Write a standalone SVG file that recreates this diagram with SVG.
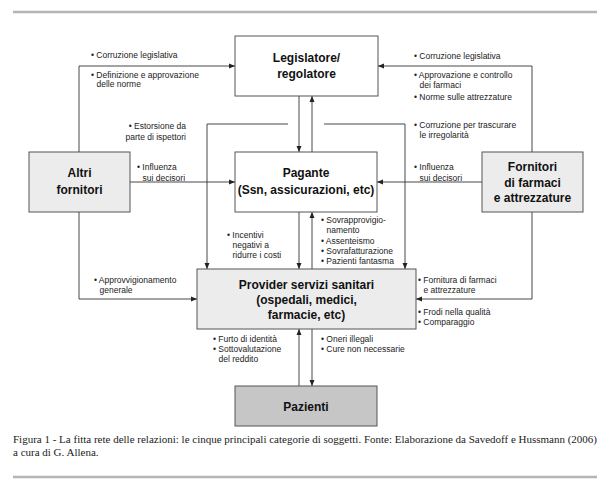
<svg xmlns="http://www.w3.org/2000/svg" width="609" height="488" viewBox="0 0 609 488">
<style>
.box{stroke:#555;stroke-width:1}
.w{fill:#fff}
.g{fill:#ececec}
.d{fill:#c6c6c6}
.t{font-family:"Liberation Sans",Arial,Helvetica,sans-serif;font-weight:bold;font-size:12px;fill:#111;text-anchor:middle}
.l{font-family:"Liberation Sans",Arial,Helvetica,sans-serif;font-size:8.5px;fill:#222}
.c{font-family:"Liberation Serif","Times New Roman",serif;font-size:11px;fill:#222}
.rule{stroke:#b5b5b5;stroke-width:2.5}
#connectors path{fill:none;stroke:#333;stroke-width:0.9;marker-end:url(#ah)}
</style>
<defs>
<marker id="ah" markerUnits="userSpaceOnUse" markerWidth="7" markerHeight="6" refX="6" refY="3" orient="auto">
<path d="M0,0.5 L6,3 L0,5.5 Z" fill="#222"/>
</marker>
</defs>
<rect width="609" height="488" fill="#fff"/>
<line class="rule" x1="13" y1="12" x2="597" y2="12"/>
<line class="rule" x1="13" y1="477" x2="597" y2="477"/>

<g id="connectors">
<path d="M79,152 V66 H235"/>
<path d="M532,152 V66 H378"/>
<path d="M299,96 V152"/>
<path d="M312,152 V96"/>
<path d="M288,124 H207 V269"/>
<path d="M324,124 H405 V269"/>
<path d="M130,182 H235"/>
<path d="M482,182 H377"/>
<path d="M299,212 V269"/>
<path d="M312,269 V212"/>
<path d="M79,212 V299 H197"/>
<path d="M532,212 V299 H416"/>
<path d="M299,386 V329"/>
<path d="M312,329 V386"/>
</g>

<g id="legislatore">
<rect class="box w" x="235" y="36" width="143" height="60"/>
<text class="t" x="306.5" y="62">Legislatore/</text>
<text class="t" x="306.5" y="78">regolatore</text>
</g>
<g id="pagante">
<rect class="box w" x="235" y="152" width="142" height="60"/>
<text class="t" x="306" y="177">Pagante</text>
<text class="t" x="306" y="194">(Ssn, assicurazioni, etc)</text>
</g>
<g id="altri">
<rect class="box g" x="29" y="152" width="101" height="60"/>
<text class="t" x="79.5" y="177">Altri</text>
<text class="t" x="79.5" y="194">fornitori</text>
</g>
<g id="fornitori">
<rect class="box g" x="482" y="152" width="101" height="60"/>
<text class="t" x="532.5" y="171">Fornitori</text>
<text class="t" x="532.5" y="186.5">di farmaci</text>
<text class="t" x="532.5" y="202">e attrezzature</text>
</g>
<g id="provider">
<rect class="box g" x="197" y="269" width="219" height="60"/>
<text class="t" x="306.5" y="288.5">Provider servizi sanitari</text>
<text class="t" x="306.5" y="303.5">(ospedali, medici,</text>
<text class="t" x="306.5" y="318.5">farmacie, etc)</text>
</g>
<g id="pazienti">
<rect class="box d" x="235" y="386" width="142" height="40"/>
<text class="t" x="306" y="410.5">Pazienti</text>
</g>

<g id="labels">
<text class="l" x="91" y="58">• Corruzione legislativa</text>
<text class="l" x="91" y="77.5">• Definizione e approvazione</text>
<text class="l" x="96.5" y="87">delle norme</text>

<text class="l" x="414" y="59">• Corruzione legislativa</text>
<text class="l" x="414" y="78">• Approvazione e controllo</text>
<text class="l" x="419.5" y="88">dei farmaci</text>
<text class="l" x="414" y="100">• Norme sulle attrezzature</text>

<text class="l" x="186" y="129" text-anchor="end">• Estorsione da</text>
<text class="l" x="186" y="139.5" text-anchor="end">parte di ispettori</text>

<text class="l" x="414" y="128">• Corruzione per trascurare</text>
<text class="l" x="419.5" y="138">le irregolarità</text>

<text class="l" x="137" y="170">• Influenza</text>
<text class="l" x="142.5" y="181">sui decisori</text>

<text class="l" x="414" y="170">• Influenza</text>
<text class="l" x="419.5" y="181">sui decisori</text>

<text class="l" x="227" y="238">• Incentivi</text>
<text class="l" x="232.5" y="248">negativi a</text>
<text class="l" x="232.5" y="258">ridurre i costi</text>

<text class="l" x="321" y="223">• Sovrapprovigio-</text>
<text class="l" x="326.5" y="233">namento</text>
<text class="l" x="321" y="244">• Assenteismo</text>
<text class="l" x="321" y="254">• Sovrafatturazione</text>
<text class="l" x="321" y="264">• Pazienti fantasma</text>

<text class="l" x="94" y="283">• Approvvigionamento</text>
<text class="l" x="99.5" y="293">generale</text>

<text class="l" x="418" y="283">• Fornitura di farmaci</text>
<text class="l" x="423.5" y="293">e attrezzature</text>
<text class="l" x="418" y="315">• Frodi nella qualità</text>
<text class="l" x="418" y="325">• Comparaggio</text>

<text class="l" x="213" y="342">• Furto di identità</text>
<text class="l" x="213" y="352">• Sottovalutazione</text>
<text class="l" x="218.5" y="362">del reddito</text>

<text class="l" x="321" y="342">• Oneri illegali</text>
<text class="l" x="321" y="352">• Cure non necessarie</text>
</g>

<g id="caption">
<text class="c" x="13" y="443" textLength="584" lengthAdjust="spacing">Figura 1 - La fitta rete delle relazioni: le cinque principali categorie di soggetti. Fonte: Elaborazione da Savedoff e Hussmann (2006)</text>
<text class="c" x="13" y="456">a cura di G. Allena.</text>
</g>
</svg>
